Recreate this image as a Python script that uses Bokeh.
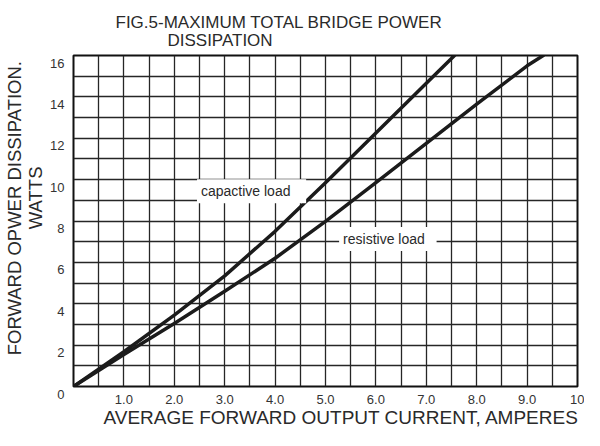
from bokeh.plotting import figure
from bokeh.models import FixedTicker, Label, Range1d
from bokeh.embed import file_html
from bokeh.resources import INLINE

# ---------------- data ----------------
capacitive_current = [0.0, 1.0, 2.0, 3.0, 4.0, 5.0, 6.0, 7.0, 7.56]
capacitive_power = [0.0, 1.68, 3.45, 5.35, 7.5, 9.85, 12.25, 14.66, 16.0]

resistive_current = [0.0, 1.0, 2.0, 3.0, 4.0, 5.0, 6.0, 7.0, 8.0, 9.0, 9.32]
resistive_power = [0.0, 1.55, 3.05, 4.6, 6.2, 7.98, 9.85, 11.75, 13.65, 15.5, 16.0]

x_tick_values = [1, 2, 3, 4, 5, 6, 7, 8, 9, 10]
x_tick_labels = ["1.0", "2.0", "3.0", "4.0", "5.0", "6.0", "7.0", "8.0", "9.0", "10"]
y_tick_values = [0, 2, 4, 6, 8, 10, 12, 14, 16]
y_tick_labels = ["0", "2", "4", "6", "8", "10", "12", "14", "16"]

title_line1 = "FIG.5-MAXIMUM TOTAL BRIDGE POWER"
title_line2 = "DISSIPATION"
x_title = "AVERAGE FORWARD OUTPUT CURRENT, AMPERES"
y_title_line1 = "FORWARD OPWER DISSIPATION."
y_title_line2 = "WATTS"
cap_label = "capactive load"
res_label = "resistive load"

# ---------------- styling ----------------
FONT = "Liberation Sans"
INK = "#1b1b1b"
TXT = "#2a2a2a"
NB = "\u00a0"

p = figure(width=584, height=430,
           x_range=Range1d(0, 10), y_range=Range1d(0, 16),
           output_backend="svg", toolbar_location=None,
           min_border_left=73, min_border_right=7,
           min_border_top=55, min_border_bottom=39,
           background_fill_color="white", border_fill_color="white")

# title: two lines, second indented
p.title.text = title_line1 + "\n" + NB * 11 + title_line2
p.title.align = "left"
p.title.offset = 42
p.title.standoff = 11
p.title.text_font = FONT
p.title.text_font_size = "17px"
p.title.text_font_style = "normal"
p.title.text_color = TXT
p.title.text_line_height = 0.95

p.outline_line_color = "#111111"
p.outline_line_width = 2
p.outline_line_alpha = 1

# grid: 0.5 A columns, 1 W rows
p.xgrid.ticker = FixedTicker(ticks=[i * 0.5 for i in range(1, 20)])
p.ygrid.ticker = FixedTicker(ticks=list(range(1, 16)))
p.grid.grid_line_color = "#262626"
p.grid.grid_line_width = 1.3
p.grid.grid_line_alpha = 1

# axes
p.xaxis.ticker = FixedTicker(ticks=x_tick_values)
p.xaxis.major_label_overrides = dict(zip(x_tick_values, x_tick_labels))
p.yaxis.ticker = FixedTicker(ticks=y_tick_values)
# leading empty line drops each y label a little below its grid line, as in the reference
p.yaxis.major_label_overrides = {v: "\n" + s for v, s in zip(y_tick_values, y_tick_labels)}
for ax in (p.xaxis[0], p.yaxis[0]):
    ax.axis_line_color = None
    ax.major_tick_line_color = None
    ax.minor_tick_line_color = None
    ax.major_label_text_font = FONT
    ax.major_label_text_font_size = "13px"
    ax.major_label_text_color = "#333333"
    ax.axis_label_text_font = FONT
    ax.axis_label_text_font_style = "normal"
    ax.axis_label_text_color = TXT
p.yaxis.major_label_text_line_height = 1.0
p.xaxis.major_label_text_line_height = 0.9
p.xaxis.major_label_standoff = 2
p.yaxis.major_label_standoff = 3

p.xaxis.axis_label = NB * 6 + x_title
p.xaxis.axis_label_text_font_size = "19px"
p.xaxis.axis_label_text_line_height = 0.9
p.xaxis.axis_label_standoff = 0

p.yaxis.axis_label = NB * 5 + y_title_line1 + "\n" + NB * 9 + y_title_line2
p.yaxis.axis_label_text_font_size = "18.5px"
p.yaxis.axis_label_standoff = 1
p.yaxis.axis_label_text_line_height = 1.0

# curves
p.line(capacitive_current, capacitive_power, line_width=3.5, line_color=INK,
       line_join="round", line_cap="round")
p.line(resistive_current, resistive_power, line_width=3.5, line_color=INK,
       line_join="round", line_cap="round")

# in-plot annotations with white boxes
p.add_layout(Label(x=2.45, y=9.44, text=cap_label + NB * 3,
                   text_align="left", text_baseline="middle",
                   text_font=FONT, text_font_size="14px", text_color=TXT,
                   background_fill_color="white", padding=4))
p.add_layout(Label(x=5.27, y=7.13, text=res_label + NB * 2,
                   text_align="left", text_baseline="middle",
                   text_font=FONT, text_font_size="14px", text_color=TXT,
                   background_fill_color="white", padding=4))

open("out.html", "w").write(file_html(p, INLINE))
